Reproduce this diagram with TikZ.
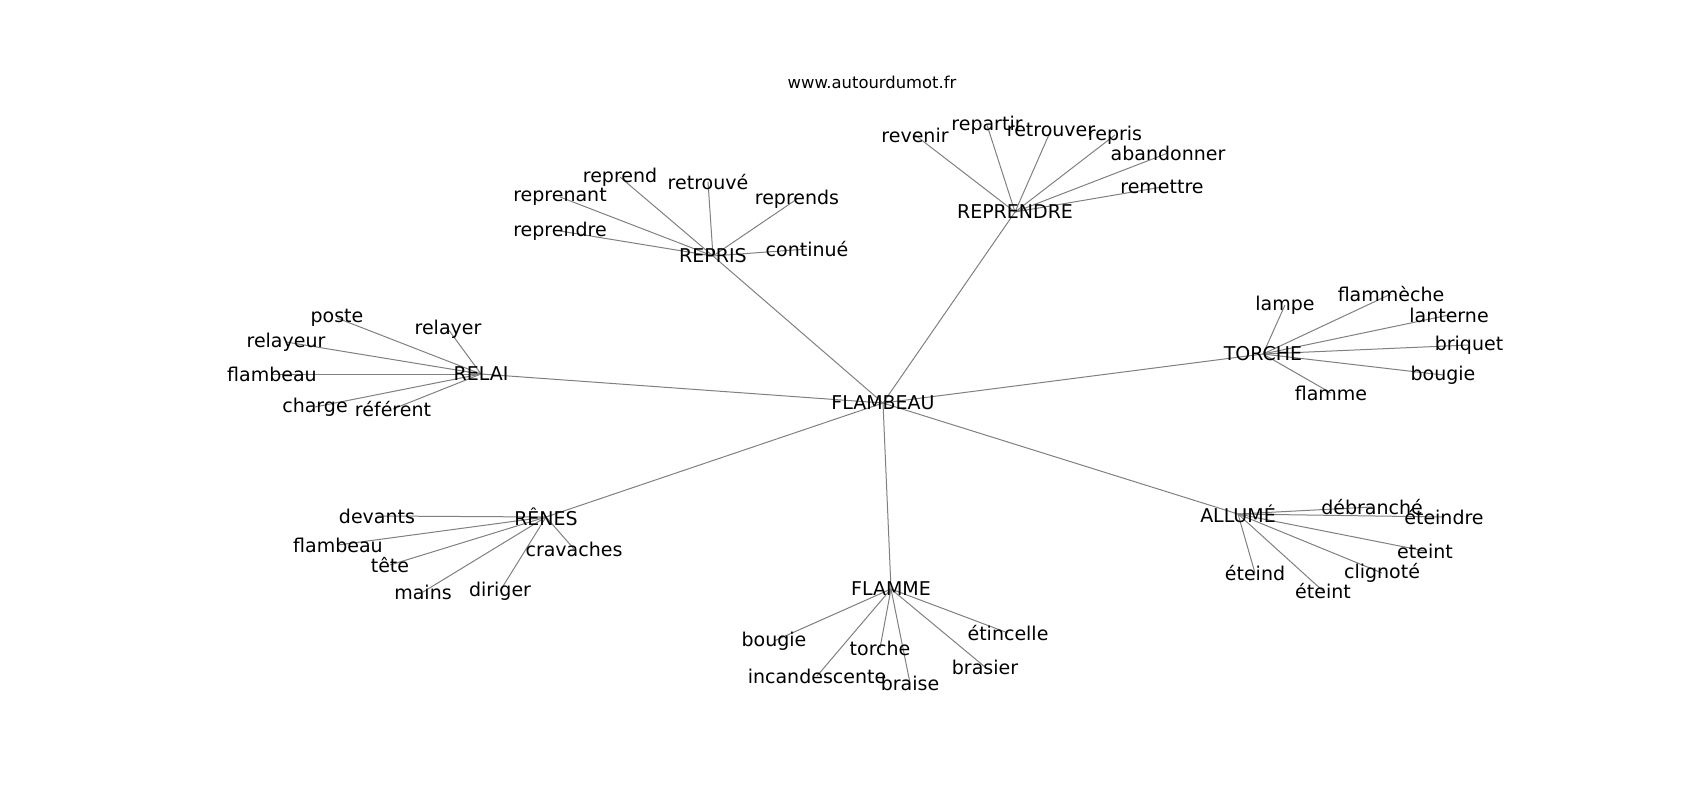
\documentclass[tikz,border=0pt]{standalone}
\usepackage{fontspec}
\setmainfont{DejaVu Sans}
\usetikzlibrary{backgrounds}
\tikzset{
	word/.style={inner sep=0pt, font=\fontsize{19}{19}\selectfont},
	link/.style={draw=gray, line width=1pt},
}
\begin{document}
\begin{tikzpicture}[x=1pt,y=-1pt]
	\useasboundingbox (0,0) rectangle (1700,800);

	% Title
	\node[font=\fontsize{16.4}{16.4}\selectfont] (title) at (872,82) {www.autourdumot.fr};

	% Centre and hubs
	\node[word] (flambeau) at (883,403) {FLAMBEAU};
	\node[word] (reprendre) at (1015,212) {REPRENDRE};
	\node[word] (repris) at (713,256) {REPRIS};
	\node[word] (relai) at (481,374) {RELAI};
	\node[word] (torche) at (1263,354) {TORCHE};
	\node[word] (renes) at (546,517) {RÊNES};
	\node[word] (flamme) at (891,589) {FLAMME};
	\node[word] (allume) at (1238,514) {ALLUMÉ};

	% Words round REPRENDRE
	\node[word] (revenir) at (915,135) {revenir};
	\node[word] (repartir) at (987,125) {repartir};
	\node[word] (retrouver) at (1051,130) {retrouver};
	\node[word] (repris2) at (1115,135) {repris};
	\node[word] (abandonner) at (1168,153) {abandonner};
	\node[word] (remettre) at (1162,187) {remettre};

	% Words round REPRIS
	\node[word] (reprend) at (620,177) {reprend};
	\node[word] (retrouve) at (708,182) {retrouvé};
	\node[word] (reprenant) at (560,197) {reprenant};
	\node[word] (reprends) at (797,199) {reprends};
	\node[word] (reprendre2) at (560,231) {reprendre};
	\node[word] (continue) at (807,249) {continué};

	% Words round RELAI
	\node[word] (poste) at (337,318) {poste};
	\node[word] (relayer) at (448,329) {relayer};
	\node[word] (relayeur) at (286,342) {relayeur};
	\node[word] (flambeau2) at (272,374) {flambeau};
	\node[word] (charge) at (315,407) {charge};
	\node[word] (referent) at (393,409) {référent};

	% Words round TORCHE
	\node[word] (lampe) at (1285,305) {lampe};
	\node[word] (flammeche) at (1391,294) {flammèche};
	\node[word] (lanterne) at (1449,315) {lanterne};
	\node[word] (briquet) at (1469,345) {briquet};
	\node[word] (bougie) at (1443,375) {bougie};
	\node[word] (flamme2) at (1331,393) {flamme};

	% Words round RENES
	\node[word] (devants) at (377,516) {devants};
	\node[word] (flambeau3) at (338,545) {flambeau};
	\node[word] (tete) at (390,565) {tête};
	\node[word] (cravaches) at (574,549) {cravaches};
	\node[word] (mains) at (423,592) {mains};
	\node[word] (diriger) at (500,591) {diriger};

	% Words round FLAMME
	\node[word] (bougie2) at (774,641) {bougie};
	\node[word] (torche2) at (880,648) {torche};
	\node[word] (incandescente) at (817,676) {incandescente};
	\node[word] (braise) at (910,683) {braise};
	\node[word] (etincelle) at (1008,633) {étincelle};
	\node[word] (brasier) at (985,667) {brasier};

	% Words round ALLUME
	\node[word] (debranche) at (1372,507) {débranché};
	\node[word] (eteindre) at (1444,517) {éteindre};
	\node[word] (eteint) at (1425,551) {eteint};
	\node[word] (clignote) at (1382,573) {clignoté};
	\node[word] (eteind) at (1255,573) {éteind};
	\node[word] (eteint2) at (1323,591) {éteint};

	% Links, under the words
	\begin{pgfonlayer}{background}
		\foreach \hub in {reprendre,repris,relai,torche,renes,flamme,allume}
			\draw[link] (flambeau.center) -- (\hub.center);
		\foreach \leaf in {revenir,repartir,retrouver,repris2,abandonner,remettre}
			\draw[link] (reprendre.center) -- (\leaf.center);
		\foreach \leaf in {reprend,retrouve,reprenant,reprends,reprendre2,continue}
			\draw[link] (repris.center) -- (\leaf.center);
		\foreach \leaf in {poste,relayer,relayeur,flambeau2,charge,referent}
			\draw[link] (relai.center) -- (\leaf.center);
		\foreach \leaf in {lampe,flammeche,lanterne,briquet,bougie,flamme2}
			\draw[link] (torche.center) -- (\leaf.center);
		\foreach \leaf in {devants,flambeau3,tete,cravaches,mains,diriger}
			\draw[link] (renes.center) -- (\leaf.center);
		\foreach \leaf in {bougie2,torche2,incandescente,braise,etincelle,brasier}
			\draw[link] (flamme.center) -- (\leaf.center);
		\foreach \leaf in {debranche,eteindre,eteint,clignote,eteind,eteint2}
			\draw[link] (allume.center) -- (\leaf.center);
	\end{pgfonlayer}
\end{tikzpicture}
\end{document}
